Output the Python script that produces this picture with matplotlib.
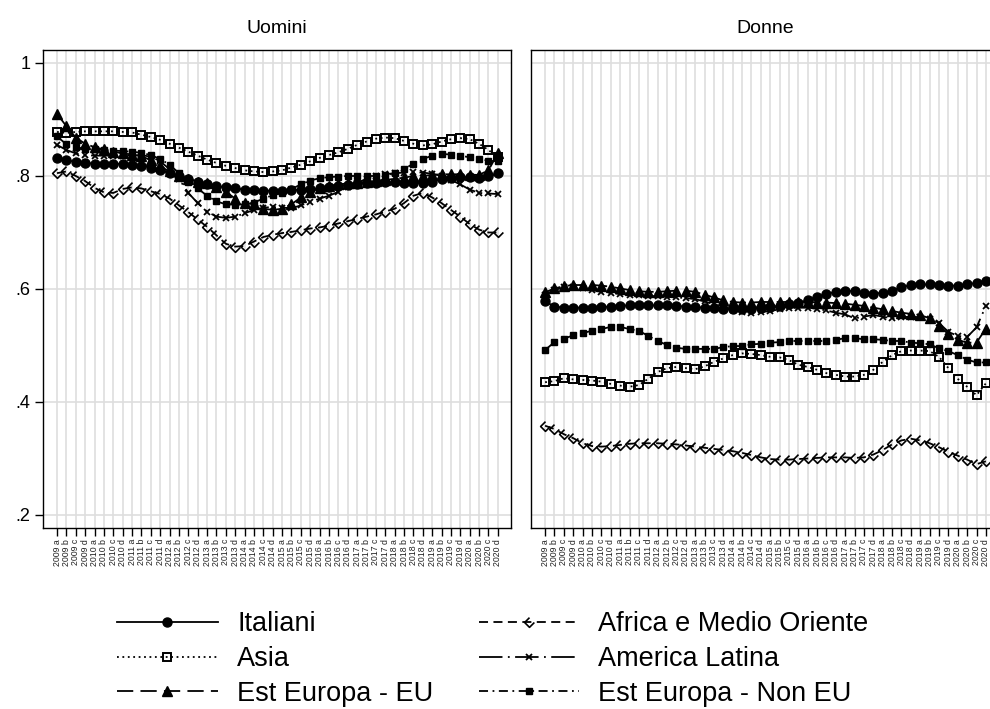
import numpy as np
import matplotlib
matplotlib.use('Agg')
from matplotlib import pyplot as plt
from matplotlib.path import Path

plt.rcParams['font.family'] = ['Liberation Sans', 'DejaVu Sans']

# trimestri 2009a .. 2020d
anni = range(2009, 2021)
lettere = ['a', 'b', 'c', 'd']
periodi = [f'{a} {q}' for a in anni for q in lettere]

nomi = ['Italiani', 'Asia', 'Est Europa - EU',
        'Africa e Medio Oriente', 'America Latina', 'Est Europa - Non EU']

# Uomini
ita_m = [0.832, 0.828, 0.825, 0.823, 0.822, 0.822, 0.822, 0.821, 0.820, 0.818, 0.815, 0.810,
         0.805, 0.800, 0.795, 0.790, 0.786, 0.782, 0.780, 0.778, 0.776, 0.775, 0.774, 0.774,
         0.774, 0.775, 0.776, 0.777, 0.778, 0.780, 0.782, 0.784, 0.786, 0.787, 0.788, 0.789,
         0.789, 0.788, 0.787, 0.788, 0.790, 0.794, 0.797, 0.798, 0.798, 0.797, 0.800, 0.805]
asia_m = [0.878, 0.876, 0.878, 0.879, 0.879, 0.879, 0.879, 0.878, 0.877, 0.873, 0.869, 0.864,
          0.857, 0.850, 0.843, 0.836, 0.829, 0.823, 0.818, 0.814, 0.810, 0.808, 0.807, 0.808,
          0.810, 0.815, 0.820, 0.826, 0.832, 0.837, 0.842, 0.848, 0.855, 0.861, 0.866, 0.868,
          0.867, 0.862, 0.857, 0.854, 0.856, 0.861, 0.865, 0.867, 0.865, 0.857, 0.846, 0.833]
eeu_m = [0.910, 0.888, 0.868, 0.857, 0.851, 0.847, 0.843, 0.840, 0.838, 0.835, 0.828, 0.817,
         0.808, 0.800, 0.795, 0.790, 0.787, 0.780, 0.772, 0.760, 0.752, 0.750, 0.742, 0.740,
         0.742, 0.750, 0.762, 0.772, 0.778, 0.782, 0.785, 0.787, 0.788, 0.790, 0.792, 0.793,
         0.795, 0.797, 0.800, 0.800, 0.802, 0.803, 0.803, 0.803, 0.802, 0.802, 0.810, 0.840]
afr_m = [0.805, 0.808, 0.800, 0.791, 0.779, 0.771, 0.770, 0.777, 0.780, 0.778, 0.773, 0.768,
         0.760, 0.748, 0.736, 0.723, 0.710, 0.695, 0.680, 0.675, 0.676, 0.684, 0.692, 0.696,
         0.699, 0.701, 0.704, 0.707, 0.709, 0.712, 0.716, 0.720, 0.724, 0.728, 0.732, 0.737,
         0.742, 0.752, 0.765, 0.770, 0.762, 0.752, 0.740, 0.728, 0.715, 0.705, 0.700, 0.700]
lat_m = [0.855, 0.846, 0.840, 0.837, 0.836, 0.836, 0.836, 0.836, 0.836, 0.837, 0.834, 0.826,
         0.812, 0.795, 0.770, 0.752, 0.737, 0.728, 0.726, 0.728, 0.734, 0.740, 0.744, 0.745,
         0.744, 0.743, 0.748, 0.754, 0.760, 0.765, 0.772, 0.780, 0.788, 0.795, 0.800, 0.803,
         0.805, 0.806, 0.807, 0.806, 0.804, 0.800, 0.793, 0.785, 0.776, 0.770, 0.769, 0.768]
neu_m = [0.870, 0.856, 0.851, 0.848, 0.847, 0.846, 0.845, 0.844, 0.843, 0.841, 0.837, 0.830,
         0.820, 0.805, 0.790, 0.778, 0.765, 0.755, 0.750, 0.749, 0.750, 0.753, 0.760, 0.766,
         0.770, 0.777, 0.785, 0.792, 0.796, 0.798, 0.799, 0.800, 0.800, 0.800, 0.800, 0.801,
         0.805, 0.812, 0.822, 0.830, 0.836, 0.839, 0.838, 0.836, 0.833, 0.830, 0.827, 0.826]

# Donne
ita_f = [0.578, 0.569, 0.567, 0.567, 0.567, 0.567, 0.568, 0.569, 0.570, 0.571, 0.571, 0.571,
         0.571, 0.571, 0.570, 0.569, 0.568, 0.567, 0.566, 0.565, 0.564, 0.564, 0.565, 0.566,
         0.568, 0.570, 0.573, 0.576, 0.580, 0.586, 0.591, 0.595, 0.597, 0.596, 0.593, 0.592,
         0.593, 0.597, 0.603, 0.607, 0.608, 0.608, 0.607, 0.606, 0.606, 0.608, 0.611, 0.615]
asia_f = [0.435, 0.437, 0.442, 0.440, 0.439, 0.438, 0.436, 0.432, 0.429, 0.427, 0.430, 0.441,
          0.453, 0.460, 0.462, 0.460, 0.458, 0.463, 0.471, 0.477, 0.483, 0.486, 0.485, 0.483,
          0.480, 0.479, 0.474, 0.466, 0.462, 0.457, 0.451, 0.448, 0.445, 0.445, 0.448, 0.457,
          0.471, 0.483, 0.490, 0.491, 0.491, 0.490, 0.480, 0.460, 0.441, 0.427, 0.412, 0.433]
eeu_f = [0.594, 0.601, 0.605, 0.607, 0.607, 0.607, 0.606, 0.604, 0.601, 0.598, 0.596, 0.595,
         0.595, 0.596, 0.597, 0.597, 0.595, 0.590, 0.585, 0.580, 0.577, 0.576, 0.576, 0.577,
         0.577, 0.577, 0.577, 0.577, 0.577, 0.576, 0.576, 0.575, 0.574, 0.572, 0.570, 0.567,
         0.564, 0.561, 0.558, 0.556, 0.554, 0.548, 0.535, 0.520, 0.510, 0.505, 0.505, 0.530]
afr_f = [0.358, 0.352, 0.343, 0.336, 0.327, 0.322, 0.321, 0.322, 0.324, 0.326, 0.327, 0.327,
         0.327, 0.326, 0.325, 0.323, 0.321, 0.319, 0.317, 0.315, 0.313, 0.310, 0.306, 0.302,
         0.299, 0.298, 0.298, 0.299, 0.300, 0.301, 0.302, 0.302, 0.302, 0.301, 0.302, 0.307,
         0.315, 0.325, 0.332, 0.335, 0.332, 0.327, 0.320, 0.312, 0.305, 0.298, 0.290, 0.295]
lat_f = [0.590, 0.598, 0.603, 0.603, 0.601, 0.598, 0.595, 0.593, 0.591, 0.590, 0.589, 0.588,
         0.587, 0.586, 0.585, 0.584, 0.582, 0.578, 0.573, 0.567, 0.562, 0.560, 0.558, 0.559,
         0.561, 0.564, 0.566, 0.567, 0.567, 0.565, 0.562, 0.558, 0.555, 0.548, 0.551, 0.554,
         0.551, 0.548, 0.550, 0.551, 0.550, 0.547, 0.540, 0.524, 0.517, 0.515, 0.532, 0.570]
neu_f = [0.492, 0.506, 0.512, 0.518, 0.522, 0.526, 0.529, 0.533, 0.533, 0.529, 0.526, 0.517,
         0.508, 0.501, 0.496, 0.494, 0.494, 0.494, 0.494, 0.497, 0.499, 0.499, 0.502, 0.503,
         0.505, 0.506, 0.508, 0.508, 0.508, 0.508, 0.508, 0.510, 0.513, 0.513, 0.511, 0.511,
         0.510, 0.508, 0.508, 0.505, 0.504, 0.502, 0.495, 0.490, 0.483, 0.475, 0.470, 0.470]

uomini = [ita_m, asia_m, eeu_m, afr_m, lat_m, neu_m]
donne = [ita_f, asia_f, eeu_f, afr_f, lat_f, neu_f]

# marker a freccia (rombo vuoto aperto) per Africa
freccia = Path([(0.0, 1.0), (-1.0, 0.0), (0.0, -1.0), (1.0, 0.0)],
               [Path.MOVETO, Path.LINETO, Path.LINETO, Path.LINETO])

stili = [
    dict(ls='-', marker='o', ms=6.5, mfc='black'),
    dict(ls=(0, (1, 2)), marker='s', ms=6, mfc='none', mew=1.4),
    dict(ls=(0, (9, 4)), marker='^', ms=7.5, mfc='black'),
    dict(ls=(0, (5, 3)), marker=freccia, ms=7, mfc='none', mew=1.2),
    dict(ls=(0, (13, 3, 1, 3)), marker='x', ms=4.5, mew=1.3),
    dict(ls=(0, (5, 2.5, 1, 2.5)), marker='s', ms=4.2, mfc='black'),
]

x = np.arange(len(periodi))
grigio = '#dedede'


def pannello(ax, serie, titolo, mostra_y):
    righe = []
    for dati, stile in zip(serie, stili):
        r, = ax.plot(x, dati, color='black', lw=1.3, **stile)
        righe.append(r)
    ax.set_xlim(-1.5, 48.4)
    ax.set_ylim(0.177, 1.023)
    ax.set_yticks([0.2, 0.4, 0.6, 0.8, 1.0])
    ax.set_xticks(x)
    ax.set_xticklabels(periodi, rotation=90, fontsize=6.3, color='#222222')
    ax.grid(True, color=grigio, lw=1.2)
    ax.set_axisbelow(True)
    ax.tick_params(axis='x', length=6, width=1, pad=2)
    if mostra_y:
        ax.set_yticklabels(['.2', '.4', '.6', '.8', '1'], fontsize=13)
        ax.tick_params(axis='y', length=6, width=1, pad=3)
    else:
        ax.tick_params(axis='y', length=0, labelleft=False)
    for s in ax.spines.values():
        s.set_color('black')
        s.set_linewidth(1.0)
    ax.set_title(titolo, fontsize=14, pad=12)
    return righe


fig = plt.figure(figsize=(9.9, 7.09), dpi=100)
ax1 = fig.add_axes([0.0434, 0.2553, 0.4727, 0.6742])
ax2 = fig.add_axes([0.5364, 0.2553, 0.4727, 0.6742])

righe = pannello(ax1, uomini, 'Uomini', True)
pannello(ax2, donne, 'Donne', False)

fig.legend(righe, nomi, ncol=2, loc='center', bbox_to_anchor=(0.498, 0.0705),
           frameon=False, fontsize=19.5, numpoints=1, handlelength=3.7,
           handletextpad=0.72, columnspacing=1.68, labelspacing=0.33)

fig.savefig('out.png', dpi=100)
